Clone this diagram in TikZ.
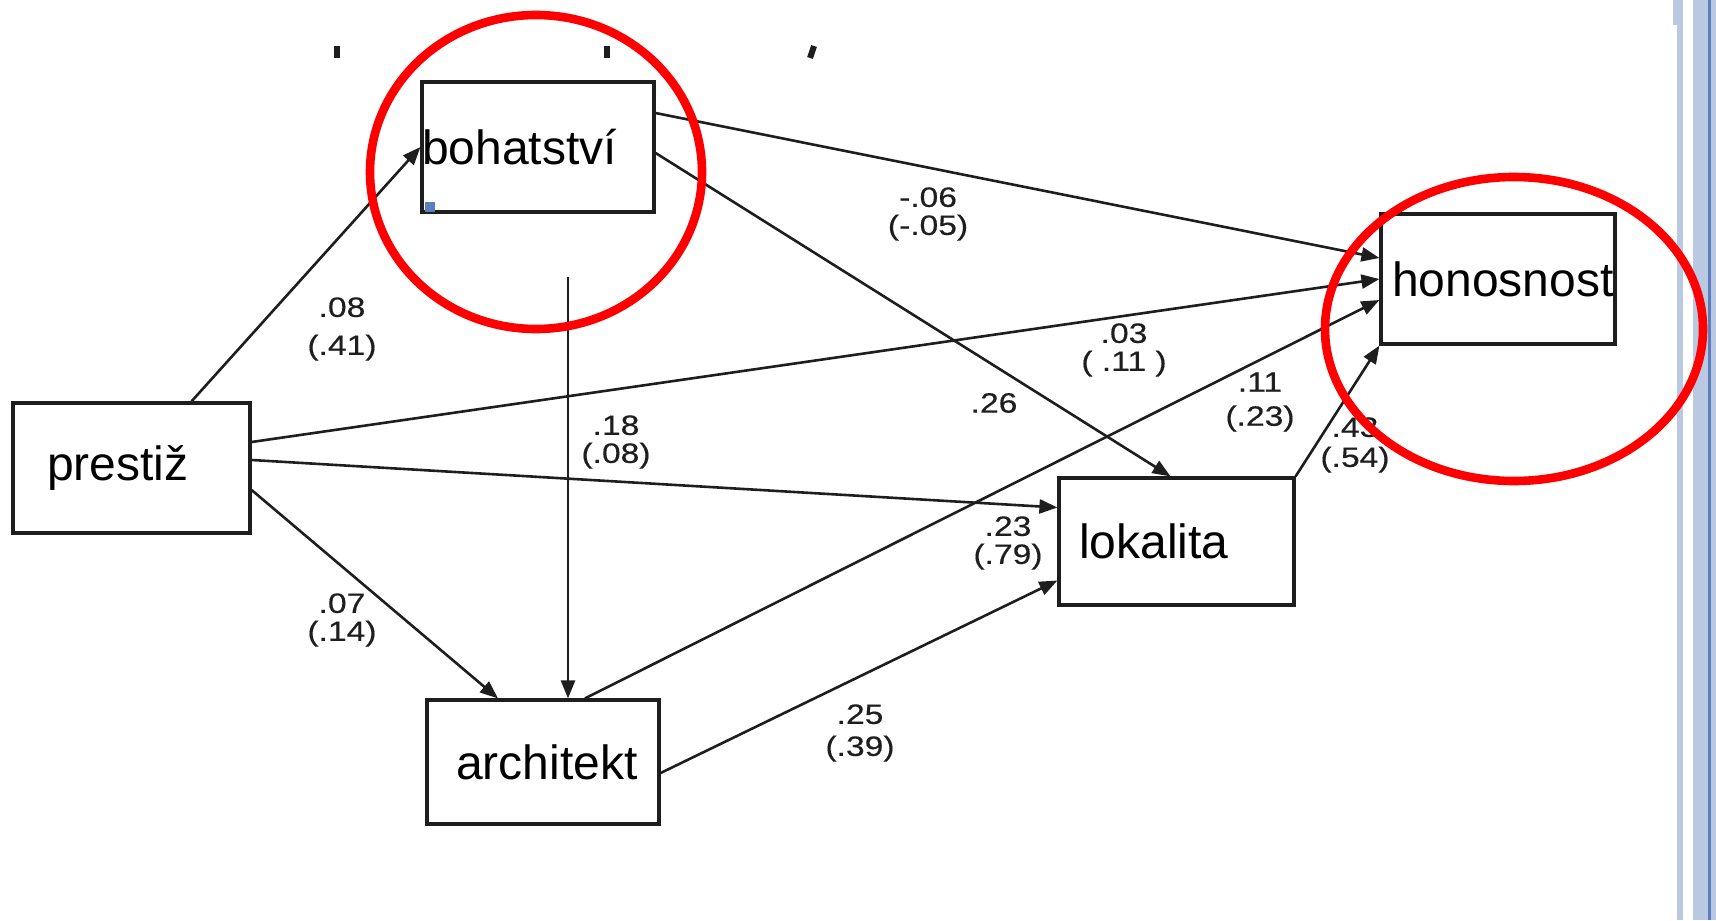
\documentclass[tikz,border=0pt]{standalone}
\usepackage{fontspec}
\setmainfont{Liberation Sans}
\newfontfamily\coeffont[FakeStretch=1.2,FakeBold=0.4]{Liberation Sans}
\usetikzlibrary{arrows.meta}

\definecolor{ringred}{RGB}{255,0,0}
\definecolor{sidebar}{RGB}{185,201,226}
\definecolor{sideline}{RGB}{92,126,190}
\definecolor{ink}{RGB}{30,30,30}

\tikzset{
	box/.style={draw=ink, line width=1.6pt, rectangle, align=left, inner ysep=0pt,
		minimum height=65pt, font=\fontsize{24}{28}\selectfont},
	link/.style={draw=ink, line width=1.3pt, -{Triangle[length=9pt,width=7pt]}},
	coef/.style={align=center, inner sep=0pt, text=ink, font=\coeffont\fontsize{14}{14}\selectfont},
	ring/.style={draw=ringred, line width=4.3pt}
}

\begin{document}
\begin{tikzpicture}[x=0.5pt,y=-0.5pt]
\useasboundingbox (0,0) rectangle (1716,920);

% side bar of the slide
\fill[sidebar] (1673,0) rectangle (1683,25);
\fill[sidebar] (1677,0) rectangle (1683,920);
\fill[sidebar] (1693,0) rectangle (1716,920);
\draw[sideline, line width=1.5pt] (1709.5,0) -- (1709.5,920);

% remains of a cut title
\foreach \tx in {337,607} {
	\draw[ink, line width=3pt] (\tx,46) -- (\tx,58);
}
\draw[ink, line width=3pt] (814,46) -- (810,58);

\node[box, inner xsep=0pt, text width=116pt] (bohatstvi) at (538,147) {bohatství};
\node[box, inner xsep=5.5pt, text width=106pt] (honosnost) at (1498,279) {honosnost};
\node[box, inner xsep=17pt, text width=84.5pt] (prestiz) at (131.5,468) {prestiž};
\node[box, inner xsep=10pt, text width=97.5pt, minimum height=63.5pt] (lokalita) at (1176.5,541.5) {lokalita};
\node[box, inner xsep=14.5pt, text width=87pt, minimum height=62pt] (architekt) at (543,762) {architekt};

\fill[sideline] (425,202) rectangle (435,212);

\coordinate (bstub) at (568,277);

\draw[link] ([xshift=30pt]prestiz.north) -- (bohatstvi.west);
\draw[link] ([yshift=17pt]bohatstvi.east) -- ([yshift=10.5pt]honosnost.west);
\draw[link] ([yshift=-3pt]bohatstvi.east) -- ([xshift=-3pt]lokalita.north);
\draw[link] (bstub) -- ([xshift=12.5pt]architekt.north);
\draw[link] ([yshift=13pt]prestiz.east) -- (honosnost.west);
\draw[link] ([yshift=4pt]prestiz.east) -- ([yshift=17pt]lokalita.west);
\draw[link] ([yshift=-11pt]prestiz.east) -- ([xshift=-22.5pt]architekt.north);
\draw[link] ([xshift=21pt]architekt.north) -- ([yshift=-10.5pt]honosnost.west);
\draw[link] ([yshift=-5.5pt]architekt.east) -- ([yshift=-19.5pt]lokalita.west);
\draw[link] (lokalita.north east) -- (honosnost.south west);

\node[coef] (c08) at (342,329) {.08\\[5pt](.41)};
\node[coef] (c06) at (928,214) {-.06\\(-.05)};
\node[coef] (c26) at (994,403) {.26};
\node[coef] (c18) at (616,442) {.18\\(.08)};
\node[coef] (c03) at (1124,350) {.03\\( .11 )};
\node[coef] (c11) at (1260,402) {.11\\[3pt](.23)};
\node[coef] (c43) at (1355,445) {.43\\[1pt](.54)};
\node[coef] (c23) at (1008,543) {.23\\(.79)};
\node[coef] (c07) at (342,620) {.07\\(.14)};
\node[coef] (c25) at (860,733) {.25\\[2pt](.39)};

% red rings
\draw[ring] (536,172) ellipse [x radius=83pt, y radius=78.5pt];
\draw[ring] (1514,329) ellipse [x radius=94.5pt, y radius=76pt];

\end{tikzpicture}
\end{document}
